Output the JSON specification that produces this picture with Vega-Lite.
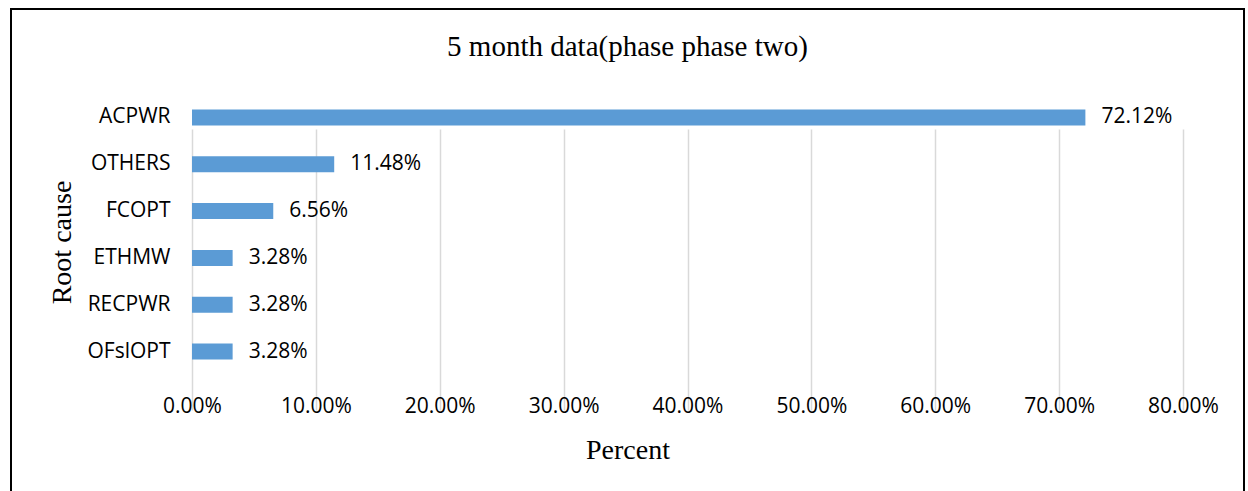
{
  "$schema": "https://vega.github.io/schema/vega-lite/v6.json",
  "autosize": "none",
  "width": 1233,
  "height": 486,
  "padding": {"left": 11, "top": 9, "right": 4, "bottom": -4},
  "background": "white",
  "config": {
    "view": {"stroke": "black", "strokeWidth": 2},
    "text": {"font": "Open Sans"}
  },
  "title": {
    "text": "5 month data(phase phase two)",
    "font": "Liberation Serif",
    "fontSize": 29,
    "fontWeight": "normal",
    "color": "black",
    "anchor": "middle",
    "frame": "group",
    "baseline": "alphabetic",
    "offset": -49,
    "dy": 27
  },
  "data": {
    "values": [
      {"cause": "ACPWR", "pct": 0.7212},
      {"cause": "OTHERS", "pct": 0.1148},
      {"cause": "FCOPT", "pct": 0.0656},
      {"cause": "ETHMW", "pct": 0.0328},
      {"cause": "RECPWR", "pct": 0.0328},
      {"cause": "OFslOPT", "pct": 0.0328}
    ]
  },
  "encoding": {
    "y": {
      "field": "cause",
      "type": "nominal",
      "sort": null,
      "scale": {"range": [85, 366], "paddingInner": 0.66, "paddingOuter": 0.33},
      "axis": {
        "title": "Root cause",
        "offset": -181,
        "domain": false,
        "ticks": false,
        "grid": false,
        "labelFont": "Open Sans",
        "labelFontSize": 21,
        "labelColor": "black",
        "labelPadding": 22,
        "titleFont": "Liberation Serif",
        "titleFontSize": 28,
        "titleFontWeight": "normal",
        "titleColor": "black",
        "titleX": -130,
        "titleY": 233,
        "titleAngle": -90,
        "titleAlign": "center",
        "titleBaseline": "middle"
      }
    },
    "x": {
      "field": "pct",
      "type": "quantitative",
      "scale": {"domain": [0, 0.8], "range": [181, 1172], "nice": false, "zero": true},
      "axis": {
        "title": "Percent",
        "format": ".2%",
        "values": [0, 0.1, 0.2, 0.3, 0.4, 0.5, 0.6, 0.7, 0.8],
        "offset": -120,
        "domain": false,
        "ticks": false,
        "grid": true,
        "gridColor": "#d9d9d9",
        "gridWidth": 1.5,
        "labelFont": "Open Sans",
        "labelFontSize": 21,
        "labelColor": "black",
        "labelBaseline": "middle",
        "labelPadding": 31,
        "labelFlush": false,
        "titleFont": "Liberation Serif",
        "titleFontSize": 28,
        "titleFontWeight": "normal",
        "titleColor": "black",
        "titleX": 616.5,
        "titleY": 75,
        "titleAlign": "center",
        "titleBaseline": "middle"
      }
    }
  },
  "layer": [
    {"mark": {"type": "bar", "color": "#5b9bd5"}},
    {
      "mark": {"type": "text", "align": "left", "baseline": "middle", "dx": 16, "font": "Open Sans", "fontSize": 21, "color": "black"},
      "encoding": {"text": {"field": "pct", "format": ".2%"}}
    }
  ]
}
